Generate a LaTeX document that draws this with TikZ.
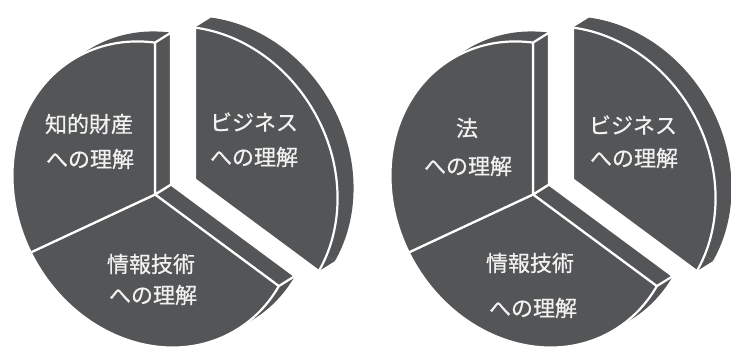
\documentclass[tikz,border=0pt]{standalone}
\usepackage{fontspec}
\newfontfamily\jpfont[FakeBold=0.6]{Noto Sans CJK JP}
\usetikzlibrary{calc}
\definecolor{piegray}{RGB}{84,85,87}
\definecolor{labelwhite}{RGB}{242,242,242}

% #1 vertex, #2 start angle, #3 end angle, #4 start side visible (1/0), #5 end side visible (1/0)
\newcommand\pieslice[5]{%
  \coordinate (bk) at ($(#1)+(16,10)$);
  \begin{scope}
    \clip (bk) -- ++(#2:400) arc[start angle=#2,end angle=#3,radius=400pt] -- cycle;
    \fill[piegray] (bk) ellipse[x radius=158pt,y radius=137pt,rotate=120];
  \end{scope}
  \coordinate (pa) at ($(#1)+(#2:{er(#2)})$);
  \coordinate (pb) at ($(#1)+(#3:{er(#3)})$);
  \ifnum#4=0 \fill[piegray] (#1) -- (pa) -- ($(pa)+(16,10)$) -- (bk) -- cycle;\fi
  \ifnum#5=0 \fill[piegray] (#1) -- (pb) -- ($(pb)+(16,10)$) -- (bk) -- cycle;\fi
  \ifnum#4=1 \draw[sideface] (#1) -- (pa) -- ($(pa)+(16,10)$) -- (bk) -- cycle;\fi
  \ifnum#5=1 \draw[sideface] (#1) -- (pb) -- ($(pb)+(16,10)$) -- (bk) -- cycle;\fi
  \begin{scope}
    \clip (#1) -- ++(#2:400) arc[start angle=#2,end angle=#3,radius=400pt] -- cycle;
    \fill[piegray] (#1) ellipse[x radius=158pt,y radius=137pt,rotate=120];
    \draw[edgeline] (#1) ellipse[x radius=158pt,y radius=137pt,rotate=120];
  \end{scope}
  \draw[edgeline] (pa) -- (#1) -- (pb);
}

\begin{document}
\begin{tikzpicture}[x=1pt,y=1pt,
  declare function={er(\t)=158/sqrt(cos(\t-120)^2+(1.15328*sin(\t-120))^2);},
  edgeline/.style={draw=white,line width=2.2pt,line join=round},
  sideface/.style={fill=piegray,draw=white,line width=2.2pt,line join=round},
  lab/.style={text=labelwhite,inner sep=0pt,font=\jpfont\fontsize{22}{26}\selectfont}]
\useasboundingbox (0,0) rectangle (731,347);

% left pie
\coordinate (c1) at (155,152.5);
\coordinate (r1) at ($(c1)+(40,15)$);
\pieslice{c1}{205}{323.5}{0}{1}
\pieslice{c1}{90}{205}{1}{0}
\pieslice{r1}{-36.5}{90}{0}{0}

% right pie
\coordinate (c2) at (533,152.5);
\coordinate (r2) at ($(c2)+(40,15)$);
\pieslice{c2}{205}{323.5}{0}{1}
\pieslice{c2}{90}{205}{1}{0}
\pieslice{r2}{-36.5}{90}{0}{0}

% labels left
\node[lab] (l1a) at (89,223) {知的財産};
\node[lab] (l1b) at (90,188) {への理解};
\node[lab] (l2a) at (254,225) {ビジネス};
\node[lab] (l2b) at (254,190) {への理解};
\node[lab] (l3a) at (151,83) {情報技術};
\node[lab] (l3b) at (153,52) {への理解};

% labels right
\node[lab] (m1a) at (467,219) {法};
\node[lab] (m1b) at (468,181) {への理解};
\node[lab] (m2a) at (633,222) {ビジネス};
\node[lab] (m2b) at (634,189) {への理解};
\node[lab] (m3a) at (530,84) {情報技術};
\node[lab] (m3b) at (533,39) {への理解};
\end{tikzpicture}
\end{document}
